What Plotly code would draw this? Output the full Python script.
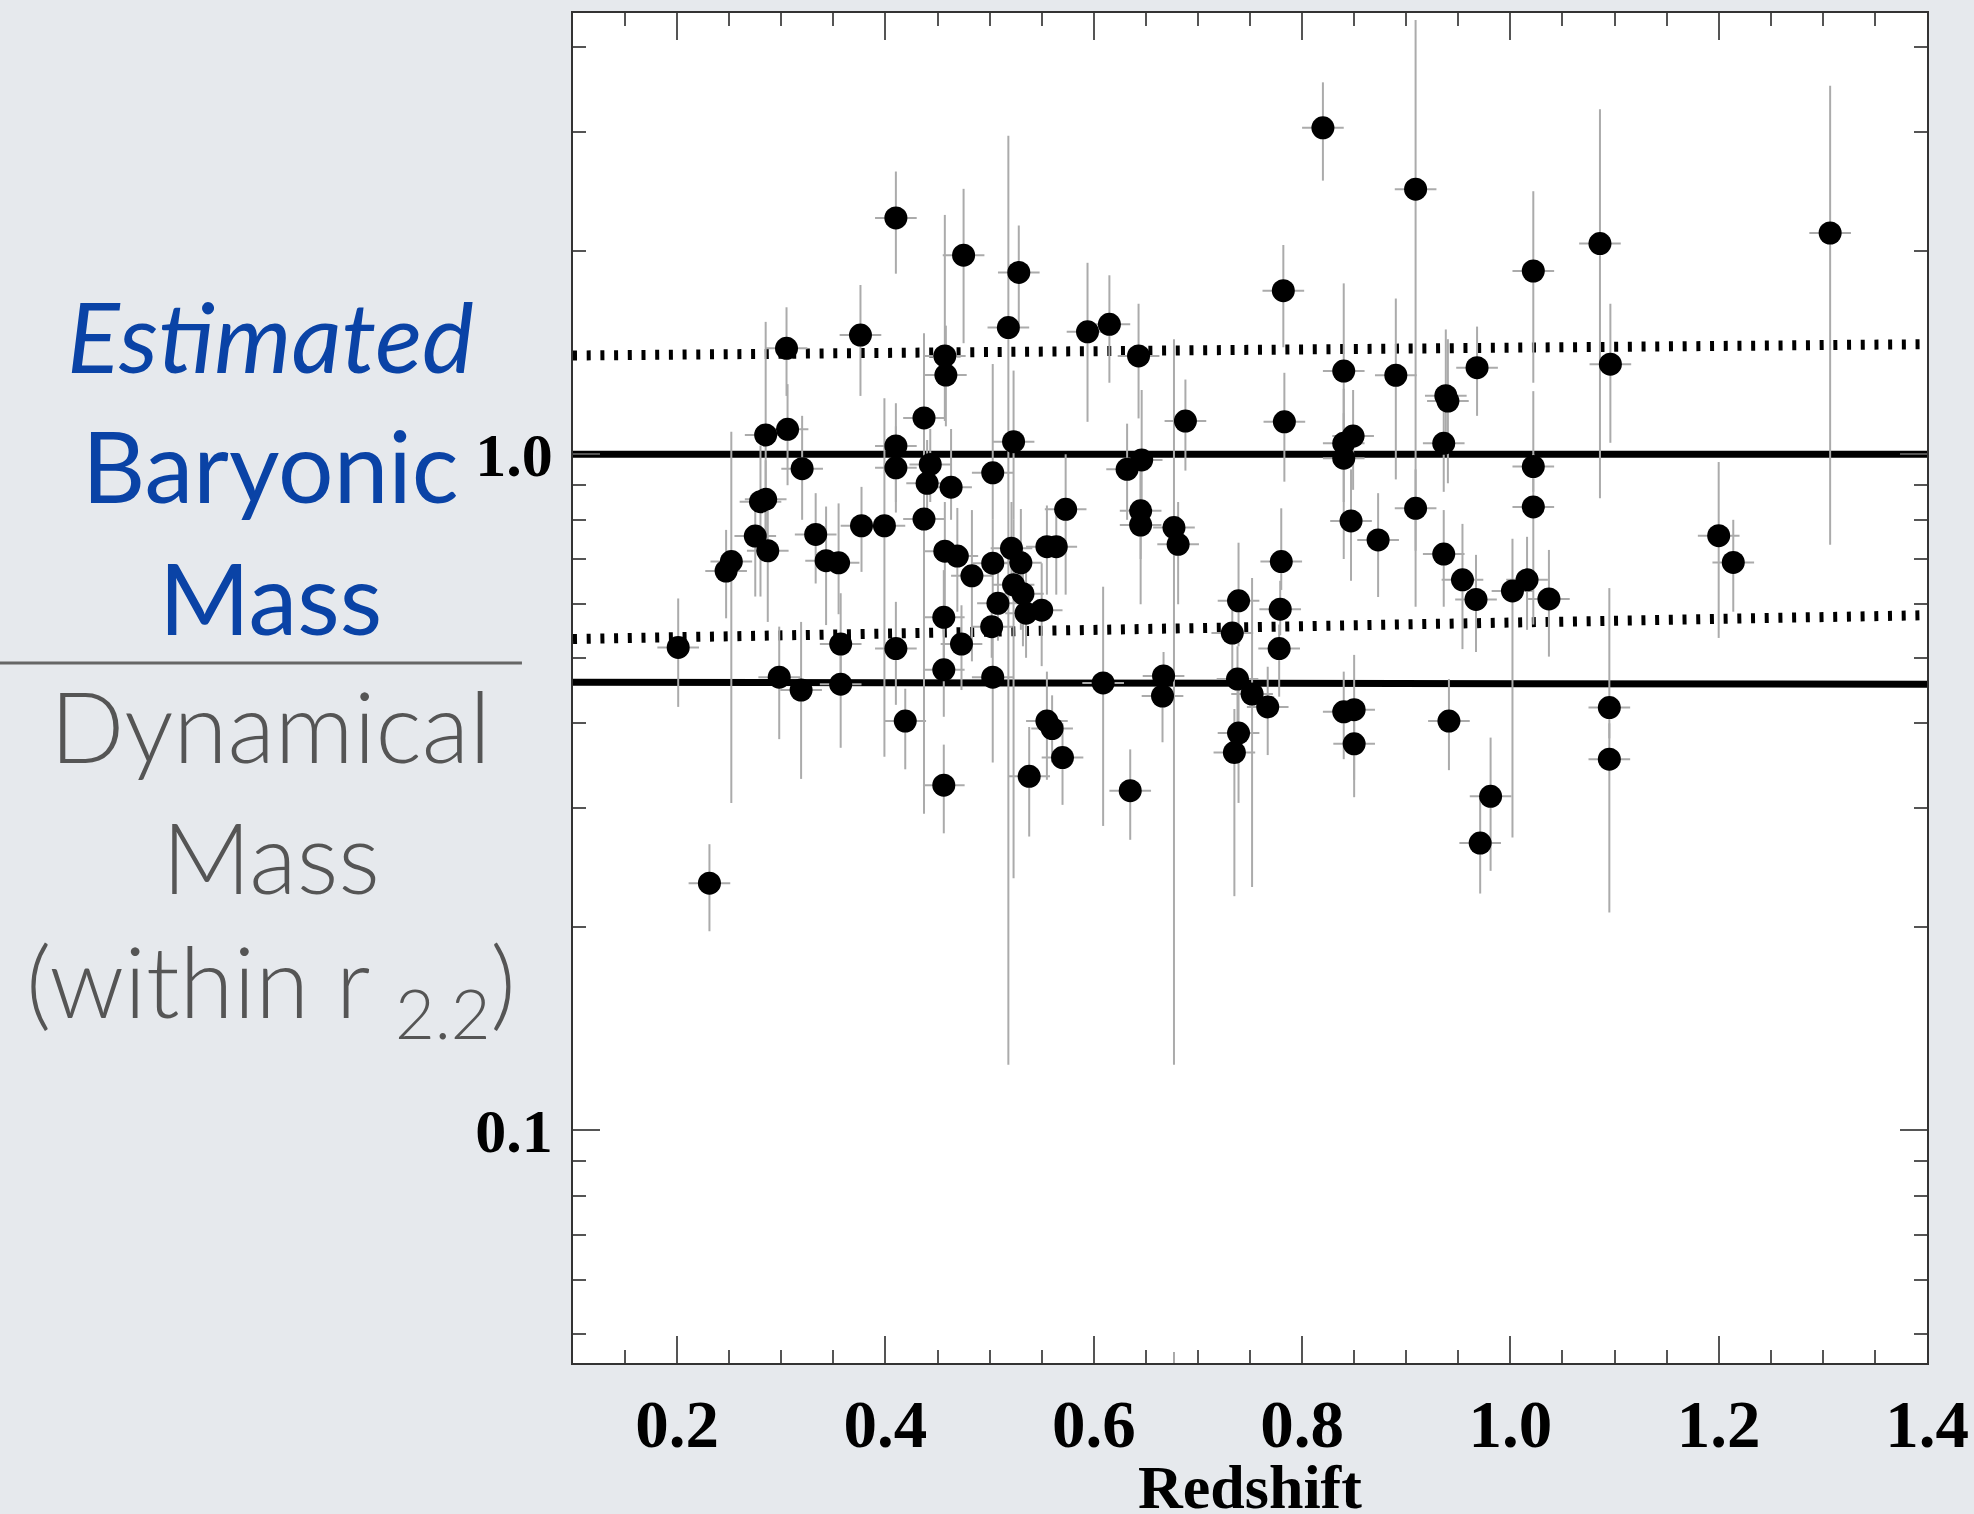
import plotly.graph_objects as go

# ---- data ----
redshift = [0.410, 0.475, 0.376, 0.305, 0.306, 0.285, 0.320, 0.457, 0.458, 0.437,
            0.410, 0.410, 0.443, 0.440, 0.463, 0.503, 0.518, 0.820, 0.528, 0.594,
            0.615, 0.643, 0.688, 0.782, 0.783, 0.523, 0.646, 0.632, 0.909, 1.022,
            1.086, 1.096, 0.840, 0.890, 0.968, 0.938, 0.940, 0.936, 0.849, 0.840,
            0.840, 1.022, 1.022, 0.573, 0.645, 0.645, 0.677, 0.681, 0.780, 0.779,
            0.778, 0.739, 0.733, 0.738, 0.752, 0.767, 0.739, 0.735, 0.609, 0.667,
            0.666, 0.555, 0.560, 0.570, 0.538, 0.635, 0.521, 0.530, 0.523, 0.532,
            0.535, 0.550, 0.555, 0.564, 0.847, 0.873, 0.909, 0.936, 0.954, 0.967,
            1.002, 1.016, 1.037, 0.840, 0.850, 0.850, 0.941, 0.981, 0.971, 1.095,
            1.095, 0.247, 0.252, 0.280, 0.285, 0.275, 0.287, 0.333, 0.343, 0.355,
            0.377, 0.399, 0.437, 0.457, 0.469, 0.483, 0.503, 0.508, 0.502, 0.456,
            0.201, 0.357, 0.410, 0.473, 0.456, 0.298, 0.319, 0.357, 0.503, 0.419,
            0.456, 0.231, 1.200, 1.214, 1.307]

mass_ratio = [2.237, 1.970, 1.501, 1.435, 1.089, 1.068, 0.952, 1.398, 1.310, 1.132,
              1.029, 0.955, 0.966, 0.906, 0.894, 0.939, 1.540, 3.040, 1.858, 1.518,
              1.557, 1.398, 1.120, 1.746, 1.117, 1.044, 0.981, 0.950, 2.467, 1.867,
              2.050, 1.359, 1.328, 1.309, 1.343, 1.221, 1.199, 1.038, 1.064, 1.038,
              0.987, 0.959, 0.836, 0.829, 0.825, 0.786, 0.779, 0.736, 0.694, 0.590,
              0.516, 0.607, 0.544, 0.465, 0.442, 0.423, 0.387, 0.362, 0.459, 0.470,
              0.439, 0.403, 0.393, 0.356, 0.334, 0.318, 0.726, 0.691, 0.641, 0.622,
              0.582, 0.588, 0.730, 0.730, 0.797, 0.747, 0.832, 0.712, 0.652, 0.610,
              0.628, 0.652, 0.611, 0.416, 0.419, 0.373, 0.403, 0.312, 0.266, 0.422,
              0.354, 0.672, 0.694, 0.851, 0.858, 0.757, 0.720, 0.761, 0.696, 0.691,
              0.784, 0.784, 0.802, 0.719, 0.707, 0.661, 0.690, 0.602, 0.556, 0.574,
              0.518, 0.524, 0.516, 0.524, 0.480, 0.468, 0.448, 0.457, 0.468, 0.403,
              0.324, 0.232, 0.758, 0.692, 2.125]

ratio_high = [2.62, 2.47, 1.78, 1.65, 1.27, 1.57, 1.14, 2.26, 1.55, 1.51,
              1.19, 1.10, 1.09, 1.05, 1.09, 1.36, 2.96, 3.55, 2.18, 1.92,
              1.84, 1.67, 1.29, 2.04, 1.32, 1.33, 1.245, 1.11, 4.39, 2.45,
              3.24, 1.67, 1.79, 1.70, 1.545, 1.53, 1.48, 1.20, 1.245, 1.25,
              1.15, 1.24, 1.00, 1.00, 1.00, 0.95, 1.48, 0.85, 0.832, 0.65,
              0.56, 0.74, 0.62, 0.52, 0.656, 0.485, 0.45, 0.42, 0.637, 0.51,
              0.47, 0.477, 0.44, 0.40, 0.395, 0.366, 0.85, 0.83, 0.80, 0.72,
              0.68, 0.69, 0.84, 0.84, 0.95, 0.876, 0.95, 0.827, 0.789, 0.71,
              0.75, 0.755, 0.722, 0.477, 0.505, 0.42, 0.465, 0.381, 0.311, 0.634,
              0.40, 0.773, 1.08, 1.03, 0.98, 0.88, 0.85, 0.876, 0.837, 0.846,
              0.895, 1.21, 0.95, 0.85, 0.833, 0.827, 0.80, 0.68, 0.62, 0.674,
              0.612, 0.623, 0.605, 0.598, 0.56, 0.556, 0.565, 0.53, 0.54, 0.45,
              0.372, 0.265, 0.974, 0.80, 3.51]

ratio_low = [1.85, 1.46, 1.22, 1.22, 0.90, 0.72, 0.80, 1.12, 1.10, 0.95,
             0.85, 0.82, 0.85, 0.80, 0.80, 0.80, 0.125, 2.54, 1.545, 1.117,
             1.276, 1.13, 0.946, 1.44, 0.911, 0.80, 0.78, 0.80, 0.595, 1.276,
             0.861, 1.04, 0.95, 0.918, 1.14, 1.00, 0.906, 0.88, 0.886, 0.85,
             0.70, 0.88, 0.56, 0.62, 0.70, 0.60, 0.125, 0.60, 0.63, 0.54,
             0.438, 0.52, 0.48, 0.40, 0.229, 0.359, 0.305, 0.222, 0.282, 0.44,
             0.375, 0.33, 0.35, 0.303, 0.272, 0.269, 0.62, 0.55, 0.236, 0.52,
             0.50, 0.486, 0.62, 0.62, 0.65, 0.615, 0.72, 0.595, 0.515, 0.51,
             0.271, 0.55, 0.502, 0.354, 0.311, 0.33, 0.341, 0.242, 0.224, 0.38,
             0.21, 0.572, 0.305, 0.616, 0.72, 0.616, 0.565, 0.644, 0.559, 0.58,
             0.67, 0.357, 0.294, 0.58, 0.585, 0.494, 0.60, 0.53, 0.50, 0.49,
             0.423, 0.47, 0.426, 0.448, 0.409, 0.379, 0.331, 0.368, 0.35, 0.342,
             0.275, 0.197, 0.535, 0.585, 0.735]

redshift_err = 0.02

# reference lines (end points over the full redshift range)
line_x = [0.1, 1.4]
solid_top = [1.0, 1.0]
solid_bottom = [0.460, 0.457]
dotted_top = [1.40, 1.455]
dotted_bottom = [0.533, 0.578]

# a lone error-bar stub at the bottom edge
stub_x = [0.677, 0.677]
stub_y = [0.047, 0.040]

x_ticks = [0.2, 0.4, 0.6, 0.8, 1.0, 1.2, 1.4]
y_ticks = [0.1, 1.0]
y_ticktext = ["0.1", "1.0"]
y_minor = [0.05, 0.06, 0.07, 0.08, 0.09, 0.2, 0.3, 0.4, 0.5, 0.6, 0.7, 0.8, 0.9, 2, 3, 4]

# ---- figure ----
fig = go.Figure()

for ys, dash, w in [(dotted_top, "4px,9.7px", 10), (dotted_bottom, "4px,9.7px", 10),
                    (solid_top, "solid", 7), (solid_bottom, "solid", 7)]:
    fig.add_trace(go.Scatter(x=line_x, y=ys, mode="lines",
                             line=dict(color="black", width=w, dash=dash),
                             hoverinfo="skip"))

fig.add_trace(go.Scatter(x=stub_x, y=stub_y, mode="lines",
                         line=dict(color="#a9a9a9", width=2), hoverinfo="skip"))

err_plus = [h - y for h, y in zip(ratio_high, mass_ratio)]
err_minus = [y - l for y, l in zip(mass_ratio, ratio_low)]

fig.add_trace(go.Scatter(
    x=redshift, y=mass_ratio, mode="markers",
    marker=dict(color="black", size=23, line=dict(width=0)),
    error_y=dict(type="data", symmetric=False, array=err_plus, arrayminus=err_minus,
                 color="#ababab", thickness=2, width=0),
    error_x=dict(type="constant", value=redshift_err, color="#ababab",
                 thickness=2, width=0),
))

xfont = dict(family="Liberation Serif", size=67, color="black", weight="bold")
yfont = dict(family="Liberation Serif", size=62, color="black", weight="bold")

fig.update_layout(
    width=1974, height=1514,
    margin=dict(l=573, r=47, t=13, b=151, autoexpand=False),
    paper_bgcolor="#e6e9ed",
    plot_bgcolor="white",
    showlegend=False,
    xaxis=dict(
        range=[0.1, 1.4], tickmode="array", tickvals=x_ticks,
        ticktext=[f"{v:.1f}" for v in x_ticks], automargin=False,
        ticks="inside", ticklen=27, tickwidth=1.5, tickcolor="#555",
        showline=True, linecolor="#333", linewidth=1.5, mirror="allticks",
        showgrid=False, zeroline=False, tickfont=xfont,
        ticklabelstandoff=2,
        minor=dict(dtick=0.05, tick0=0.1, ticks="inside", ticklen=13,
                   tickwidth=1.5, tickcolor="#555", showgrid=False),
    ),
    yaxis=dict(
        type="log", range=[-1.3442, 0.6528], tickmode="array",
        tickvals=y_ticks, ticktext=y_ticktext, automargin=False,
        ticks="inside", ticklen=27, tickwidth=1.5, tickcolor="#555",
        showline=True, linecolor="#333", linewidth=1.5, mirror="allticks",
        showgrid=False, zeroline=False, tickfont=yfont,
        ticklabelstandoff=6,
        minor=dict(tickmode="array", tickvals=y_minor, ticks="inside", ticklen=13,
                   tickwidth=1.5, tickcolor="#555", showgrid=False),
    ),
)

# x-axis title
fig.add_annotation(text="Redshift", xref="paper", yref="paper", x=0.5, y=-0.0915,
                   xanchor="center", yanchor="middle", showarrow=False,
                   font=dict(family="Liberation Serif", size=62, color="black",
                             weight="bold"))

# left-hand fraction label
blue = "#0a43a6"
grey = "#555555"
cx = -0.2233
labels = [
    ("<i>Estimated</i>", 0.7615, blue, 400),
    ("Baryonic", 0.6652, blue, 400),
    ("Mass", 0.5674, blue, 400),
    ("Dynamical", 0.4726, grey, 300),
    ("Mass", 0.3752, grey, 300),
    ("(within r <sub>2.2</sub>)", 0.2778, grey, 300),
]
for txt, py, col, wt in labels:
    fig.add_annotation(text=txt, xref="paper", yref="paper", x=cx, y=py,
                       xanchor="center", yanchor="middle", showarrow=False,
                       font=dict(family="Lato", size=98, color=col, weight=wt))

fig.add_shape(type="line", xref="paper", yref="paper", x0=-0.4232, x1=-0.0377,
              y0=0.5185, y1=0.5185, line=dict(color="#666666", width=3))

fig.write_html("out.html")
